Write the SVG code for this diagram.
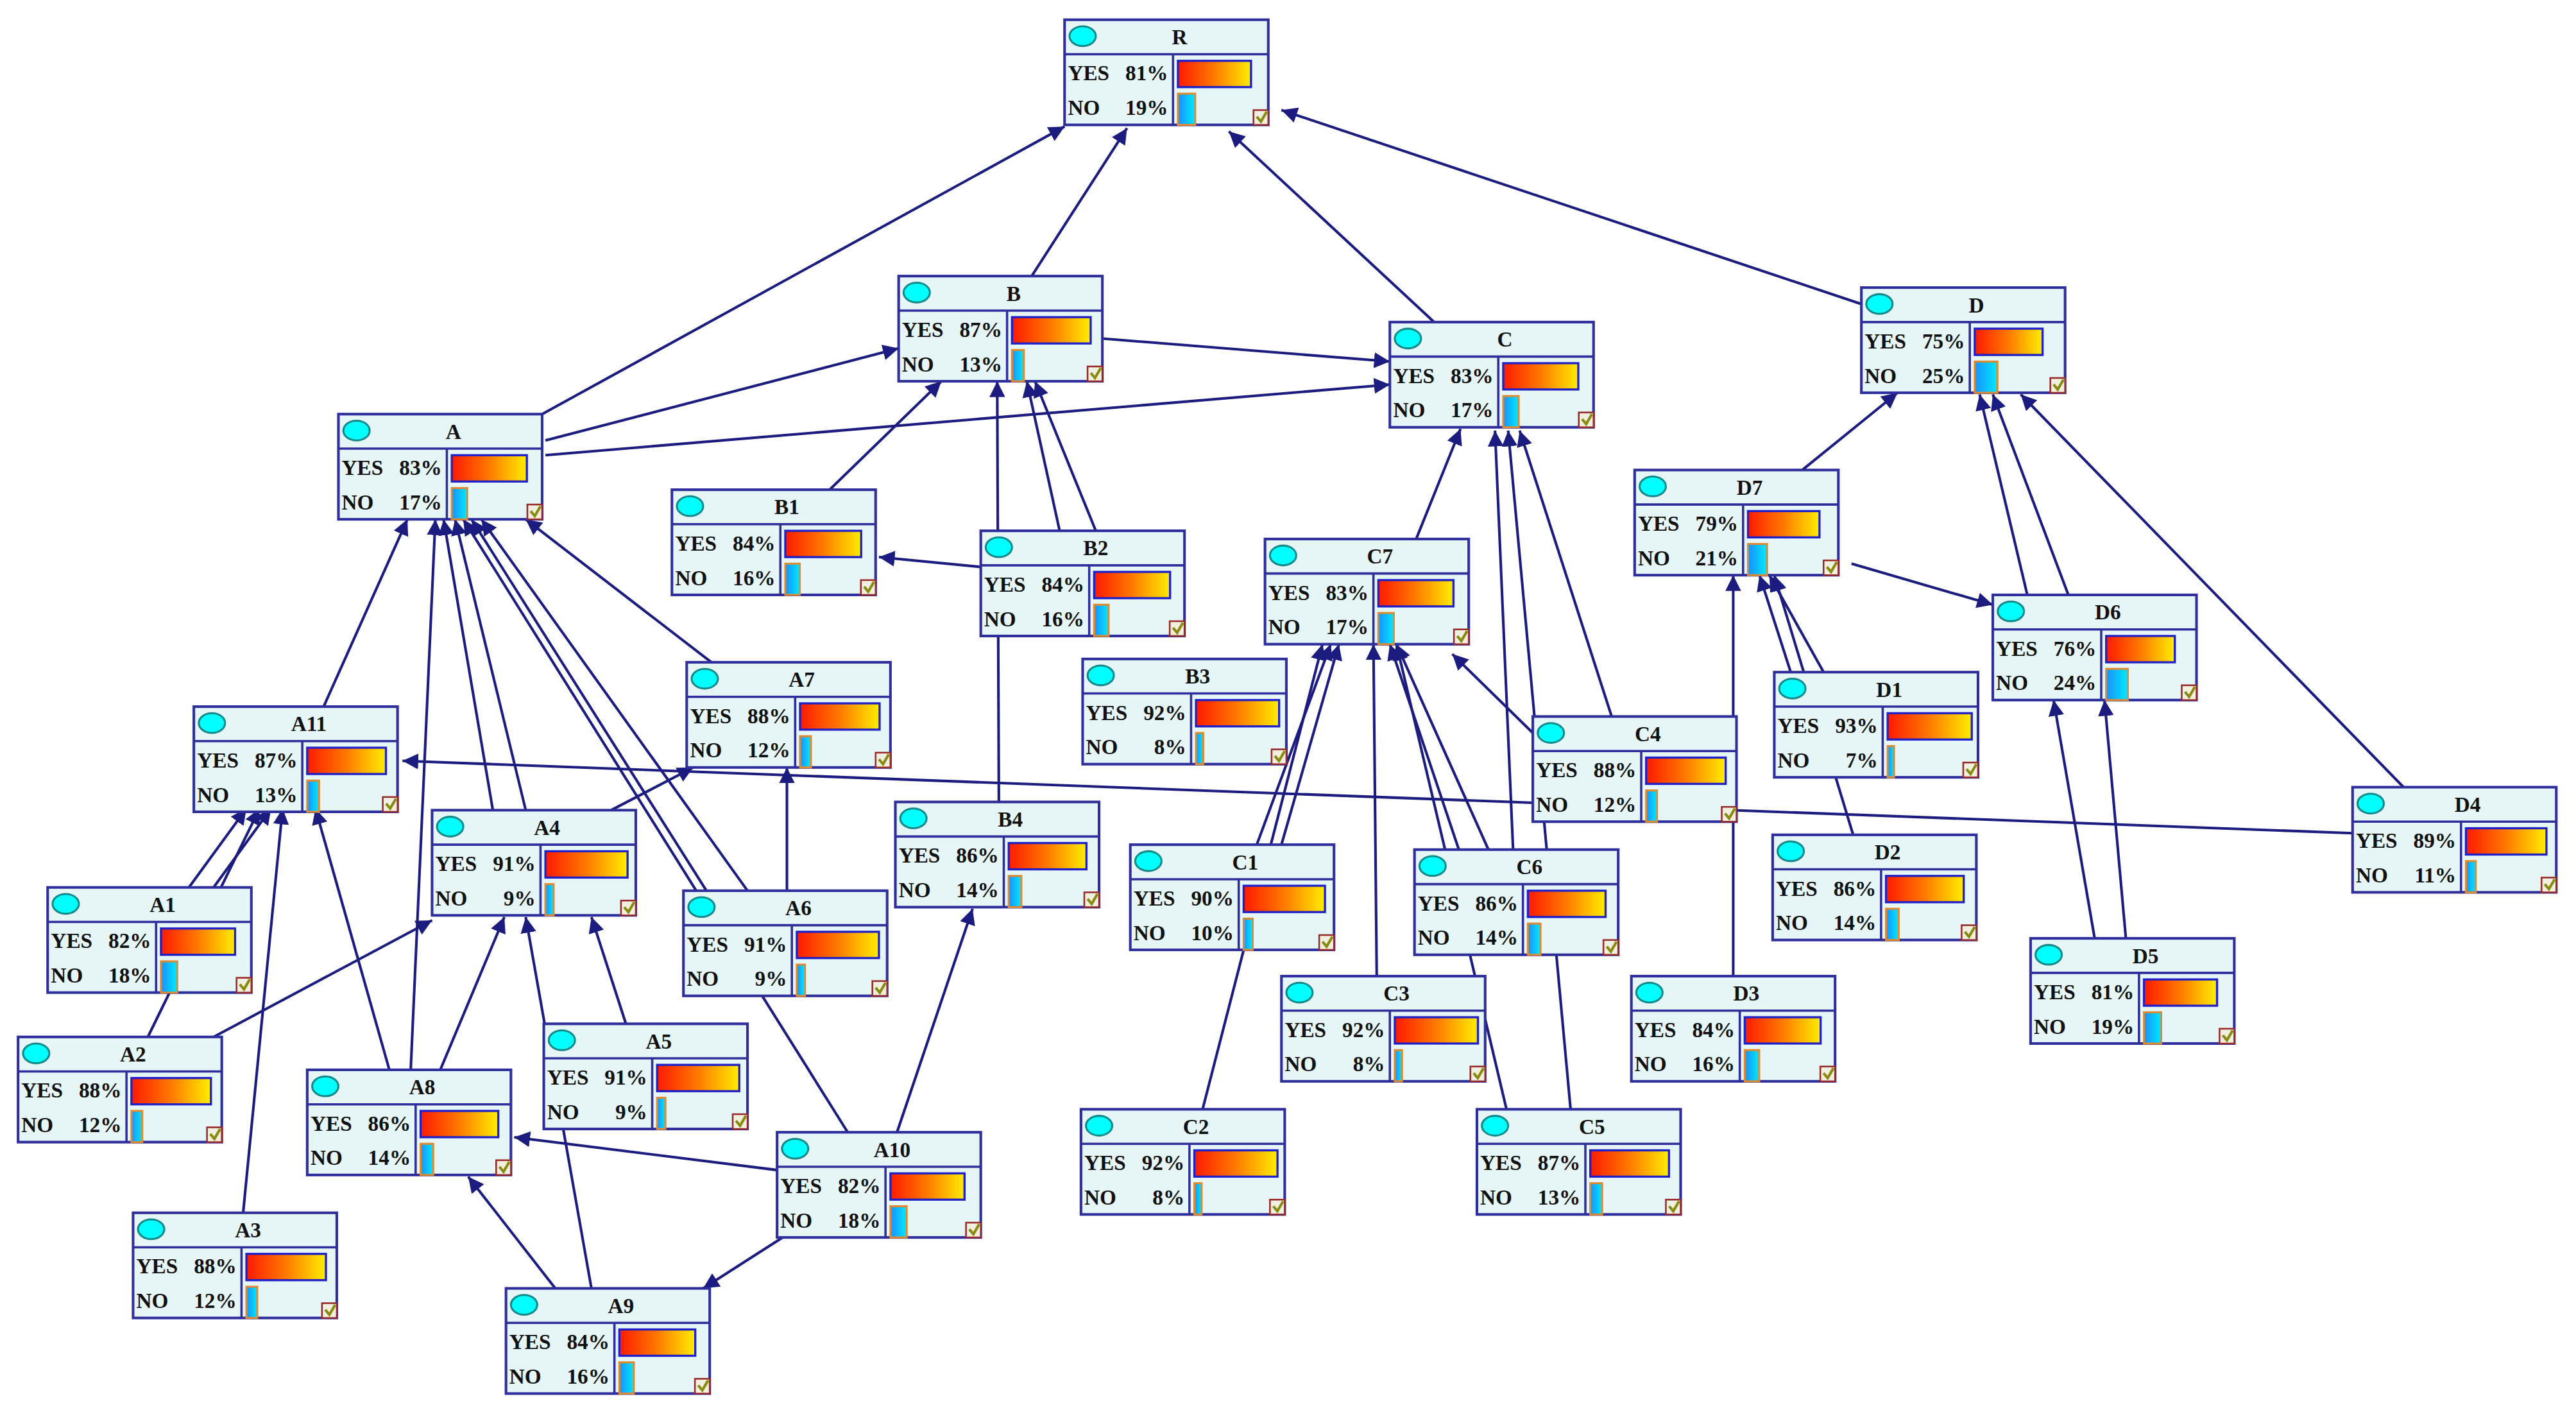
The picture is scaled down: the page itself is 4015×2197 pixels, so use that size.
<svg xmlns="http://www.w3.org/2000/svg" width="4015" height="2197" viewBox="0 0 4015 2197">
<style>
.bx{fill:#e6f5f5;stroke:#2e2e9c;stroke-width:1.6}
.ln{stroke:#2e2e9c;stroke-width:1.4}
.ic{fill:#00ffff;stroke:#138a8a;stroke-width:1.2}
.t{font-family:"Liberation Serif",serif;font-weight:bold;font-size:13px;fill:#111}
.yb{fill:url(#gy);stroke:#2020c8;stroke-width:1.3}
.nb{fill:url(#gn);stroke:#e08a30;stroke-width:1.2}
.ck{fill:#f0f0e0;stroke:#9a2a2a;stroke-width:1}
.cm{fill:none;stroke:#8a8a10;stroke-width:1.6}
.e{stroke:#1c1c80;stroke-width:1.6;fill:none;marker-end:url(#ah)}
</style>
<defs>
<linearGradient id="gy"><stop offset="0" stop-color="#ff1a00"/><stop offset="0.5" stop-color="#ff7a00"/><stop offset="1" stop-color="#ffee00"/></linearGradient>
<linearGradient id="gn"><stop offset="0" stop-color="#1a90ff"/><stop offset="1" stop-color="#00eaff"/></linearGradient>
<marker id="ah" viewBox="0 0 10 10" refX="10" refY="5" markerWidth="6" markerHeight="6" orient="auto" markerUnits="strokeWidth"><path d="M0,0L10,5L0,10z" fill="#1c1c80"/></marker>
</defs>
<rect width="4015" height="2197" fill="#fff"/>
<g transform="scale(2.5606)">
<g id="connectors">
<line class="e" x1="330" y1="252" x2="648" y2="77"/>
<line class="e" x1="628" y1="168" x2="686" y2="78"/>
<line class="e" x1="873" y1="196" x2="748" y2="80"/>
<line class="e" x1="1133" y1="185" x2="780" y2="67"/>
<line class="e" x1="671" y1="206" x2="846" y2="220"/>
<line class="e" x1="332" y1="268" x2="547" y2="212"/>
<line class="e" x1="332" y1="277" x2="846" y2="234"/>
<line class="e" x1="505" y1="298" x2="573" y2="232"/>
<line class="e" x1="645" y1="323" x2="625" y2="232"/>
<line class="e" x1="667" y1="323" x2="630" y2="232"/>
<line class="e" x1="608" y1="488" x2="607" y2="232"/>
<line class="e" x1="597" y1="345" x2="535" y2="339"/>
<line class="e" x1="862" y1="328" x2="889" y2="261"/>
<line class="e" x1="921" y1="517" x2="910" y2="262"/>
<line class="e" x1="956" y1="675" x2="918" y2="262"/>
<line class="e" x1="917" y1="675" x2="850" y2="392"/>
<line class="e" x1="981" y1="436" x2="925" y2="262"/>
<line class="e" x1="933" y1="446" x2="884" y2="398"/>
<line class="e" x1="780" y1="514" x2="815" y2="392"/>
<line class="e" x1="765" y1="514" x2="810" y2="392"/>
<line class="e" x1="732" y1="675" x2="805" y2="392"/>
<line class="e" x1="838" y1="594" x2="836" y2="392"/>
<line class="e" x1="906" y1="517" x2="850" y2="392"/>
<line class="e" x1="888" y1="517" x2="846" y2="392"/>
<line class="e" x1="1097" y1="286" x2="1155" y2="239"/>
<line class="e" x1="1234" y1="362" x2="1205" y2="240"/>
<line class="e" x1="1259" y1="362" x2="1213" y2="240"/>
<line class="e" x1="1463" y1="479" x2="1230" y2="240"/>
<line class="e" x1="1127" y1="343" x2="1213" y2="368"/>
<line class="e" x1="1110" y1="409" x2="1077" y2="350"/>
<line class="e" x1="1090" y1="409" x2="1071" y2="350"/>
<line class="e" x1="1055" y1="594" x2="1055" y2="350"/>
<line class="e" x1="1128" y1="508" x2="1080" y2="350"/>
<line class="e" x1="1294" y1="571" x2="1281" y2="426"/>
<line class="e" x1="1275" y1="571" x2="1250" y2="426"/>
<line class="e" x1="1432" y1="507" x2="245" y2="463"/>
<line class="e" x1="197" y1="430" x2="248" y2="316"/>
<line class="e" x1="433" y1="403" x2="320" y2="316"/>
<line class="e" x1="300" y1="493" x2="270" y2="316"/>
<line class="e" x1="320" y1="493" x2="277" y2="316"/>
<line class="e" x1="430" y1="542" x2="287" y2="316"/>
<line class="e" x1="455" y1="542" x2="293" y2="316"/>
<line class="e" x1="250" y1="651" x2="265" y2="316"/>
<line class="e" x1="516" y1="689" x2="282" y2="316"/>
<line class="e" x1="115" y1="540" x2="150" y2="492"/>
<line class="e" x1="130" y1="540" x2="165" y2="492"/>
<line class="e" x1="90" y1="631" x2="158" y2="492"/>
<line class="e" x1="148" y1="738" x2="172" y2="492"/>
<line class="e" x1="237" y1="651" x2="192" y2="492"/>
<line class="e" x1="372" y1="493" x2="422" y2="467"/>
<line class="e" x1="479" y1="542" x2="479" y2="467"/>
<line class="e" x1="130" y1="631" x2="263" y2="560"/>
<line class="e" x1="381" y1="623" x2="360" y2="558"/>
<line class="e" x1="268" y1="651" x2="307" y2="558"/>
<line class="e" x1="360" y1="784" x2="320" y2="558"/>
<line class="e" x1="338" y1="784" x2="285" y2="716"/>
<line class="e" x1="478" y1="752" x2="428" y2="784"/>
<line class="e" x1="473" y1="712" x2="313" y2="692"/>
<line class="e" x1="546" y1="689" x2="592" y2="553"/>
</g>
<defs>
<g id="nb">
<rect class="bx" x="0" y="0" width="124" height="64"/>
<line class="ln" x1="0" y1="21" x2="124" y2="21"/>
<line class="ln" x1="66" y1="21" x2="66" y2="64"/>
<ellipse class="ic" cx="11" cy="10" rx="8" ry="6"/>
<rect class="ck" x="115" y="55" width="9" height="9"/>
<polyline class="cm" points="117,59 119.5,62 123,56"/>
</g>
</defs>
<g id="R" transform="translate(648,12)"><use href="#nb"/><text class="t" x="70" y="15" text-anchor="middle">R</text><text class="t" x="2" y="37">YES</text><text class="t" x="63" y="37" text-anchor="end">81%</text><text class="t" x="2" y="58">NO</text><text class="t" x="63" y="58" text-anchor="end">19%</text><rect class="yb" x="69" y="25" width="44.5" height="16"/><rect class="nb" x="69" y="45" width="10.5" height="19"/></g>
<g id="B" transform="translate(547,168)"><use href="#nb"/><text class="t" x="70" y="15" text-anchor="middle">B</text><text class="t" x="2" y="37">YES</text><text class="t" x="63" y="37" text-anchor="end">87%</text><text class="t" x="2" y="58">NO</text><text class="t" x="63" y="58" text-anchor="end">13%</text><rect class="yb" x="69" y="25" width="47.9" height="16"/><rect class="nb" x="69" y="45" width="7.2" height="19"/></g>
<g id="C" transform="translate(846,196)"><use href="#nb"/><text class="t" x="70" y="15" text-anchor="middle">C</text><text class="t" x="2" y="37">YES</text><text class="t" x="63" y="37" text-anchor="end">83%</text><text class="t" x="2" y="58">NO</text><text class="t" x="63" y="58" text-anchor="end">17%</text><rect class="yb" x="69" y="25" width="45.7" height="16"/><rect class="nb" x="69" y="45" width="9.4" height="19"/></g>
<g id="D" transform="translate(1133,175)"><use href="#nb"/><text class="t" x="70" y="15" text-anchor="middle">D</text><text class="t" x="2" y="37">YES</text><text class="t" x="63" y="37" text-anchor="end">75%</text><text class="t" x="2" y="58">NO</text><text class="t" x="63" y="58" text-anchor="end">25%</text><rect class="yb" x="69" y="25" width="41.3" height="16"/><rect class="nb" x="69" y="45" width="13.8" height="19"/></g>
<g id="A" transform="translate(206,252)"><use href="#nb"/><text class="t" x="70" y="15" text-anchor="middle">A</text><text class="t" x="2" y="37">YES</text><text class="t" x="63" y="37" text-anchor="end">83%</text><text class="t" x="2" y="58">NO</text><text class="t" x="63" y="58" text-anchor="end">17%</text><rect class="yb" x="69" y="25" width="45.7" height="16"/><rect class="nb" x="69" y="45" width="9.4" height="19"/></g>
<g id="B1" transform="translate(409,298)"><use href="#nb"/><text class="t" x="70" y="15" text-anchor="middle">B1</text><text class="t" x="2" y="37">YES</text><text class="t" x="63" y="37" text-anchor="end">84%</text><text class="t" x="2" y="58">NO</text><text class="t" x="63" y="58" text-anchor="end">16%</text><rect class="yb" x="69" y="25" width="46.2" height="16"/><rect class="nb" x="69" y="45" width="8.8" height="19"/></g>
<g id="B2" transform="translate(597,323)"><use href="#nb"/><text class="t" x="70" y="15" text-anchor="middle">B2</text><text class="t" x="2" y="37">YES</text><text class="t" x="63" y="37" text-anchor="end">84%</text><text class="t" x="2" y="58">NO</text><text class="t" x="63" y="58" text-anchor="end">16%</text><rect class="yb" x="69" y="25" width="46.2" height="16"/><rect class="nb" x="69" y="45" width="8.8" height="19"/></g>
<g id="C7" transform="translate(770,328)"><use href="#nb"/><text class="t" x="70" y="15" text-anchor="middle">C7</text><text class="t" x="2" y="37">YES</text><text class="t" x="63" y="37" text-anchor="end">83%</text><text class="t" x="2" y="58">NO</text><text class="t" x="63" y="58" text-anchor="end">17%</text><rect class="yb" x="69" y="25" width="45.7" height="16"/><rect class="nb" x="69" y="45" width="9.4" height="19"/></g>
<g id="D7" transform="translate(995,286)"><use href="#nb"/><text class="t" x="70" y="15" text-anchor="middle">D7</text><text class="t" x="2" y="37">YES</text><text class="t" x="63" y="37" text-anchor="end">79%</text><text class="t" x="2" y="58">NO</text><text class="t" x="63" y="58" text-anchor="end">21%</text><rect class="yb" x="69" y="25" width="43.5" height="16"/><rect class="nb" x="69" y="45" width="11.6" height="19"/></g>
<g id="D6" transform="translate(1213,362)"><use href="#nb"/><text class="t" x="70" y="15" text-anchor="middle">D6</text><text class="t" x="2" y="37">YES</text><text class="t" x="63" y="37" text-anchor="end">76%</text><text class="t" x="2" y="58">NO</text><text class="t" x="63" y="58" text-anchor="end">24%</text><rect class="yb" x="69" y="25" width="41.8" height="16"/><rect class="nb" x="69" y="45" width="13.2" height="19"/></g>
<g id="A7" transform="translate(418,403)"><use href="#nb"/><text class="t" x="70" y="15" text-anchor="middle">A7</text><text class="t" x="2" y="37">YES</text><text class="t" x="63" y="37" text-anchor="end">88%</text><text class="t" x="2" y="58">NO</text><text class="t" x="63" y="58" text-anchor="end">12%</text><rect class="yb" x="69" y="25" width="48.4" height="16"/><rect class="nb" x="69" y="45" width="6.6" height="19"/></g>
<g id="B3" transform="translate(659,401)"><use href="#nb"/><text class="t" x="70" y="15" text-anchor="middle">B3</text><text class="t" x="2" y="37">YES</text><text class="t" x="63" y="37" text-anchor="end">92%</text><text class="t" x="2" y="58">NO</text><text class="t" x="63" y="58" text-anchor="end">8%</text><rect class="yb" x="69" y="25" width="50.6" height="16"/><rect class="nb" x="69" y="45" width="4.4" height="19"/></g>
<g id="A11" transform="translate(118,430)"><use href="#nb"/><text class="t" x="70" y="15" text-anchor="middle">A11</text><text class="t" x="2" y="37">YES</text><text class="t" x="63" y="37" text-anchor="end">87%</text><text class="t" x="2" y="58">NO</text><text class="t" x="63" y="58" text-anchor="end">13%</text><rect class="yb" x="69" y="25" width="47.9" height="16"/><rect class="nb" x="69" y="45" width="7.2" height="19"/></g>
<g id="C4" transform="translate(933,436)"><use href="#nb"/><text class="t" x="70" y="15" text-anchor="middle">C4</text><text class="t" x="2" y="37">YES</text><text class="t" x="63" y="37" text-anchor="end">88%</text><text class="t" x="2" y="58">NO</text><text class="t" x="63" y="58" text-anchor="end">12%</text><rect class="yb" x="69" y="25" width="48.4" height="16"/><rect class="nb" x="69" y="45" width="6.6" height="19"/></g>
<g id="D1" transform="translate(1080,409)"><use href="#nb"/><text class="t" x="70" y="15" text-anchor="middle">D1</text><text class="t" x="2" y="37">YES</text><text class="t" x="63" y="37" text-anchor="end">93%</text><text class="t" x="2" y="58">NO</text><text class="t" x="63" y="58" text-anchor="end">7%</text><rect class="yb" x="69" y="25" width="51.2" height="16"/><rect class="nb" x="69" y="45" width="3.9" height="19"/></g>
<g id="D4" transform="translate(1432,479)"><use href="#nb"/><text class="t" x="70" y="15" text-anchor="middle">D4</text><text class="t" x="2" y="37">YES</text><text class="t" x="63" y="37" text-anchor="end">89%</text><text class="t" x="2" y="58">NO</text><text class="t" x="63" y="58" text-anchor="end">11%</text><rect class="yb" x="69" y="25" width="49" height="16"/><rect class="nb" x="69" y="45" width="6" height="19"/></g>
<g id="A4" transform="translate(263,493)"><use href="#nb"/><text class="t" x="70" y="15" text-anchor="middle">A4</text><text class="t" x="2" y="37">YES</text><text class="t" x="63" y="37" text-anchor="end">91%</text><text class="t" x="2" y="58">NO</text><text class="t" x="63" y="58" text-anchor="end">9%</text><rect class="yb" x="69" y="25" width="50" height="16"/><rect class="nb" x="69" y="45" width="5" height="19"/></g>
<g id="B4" transform="translate(545,488)"><use href="#nb"/><text class="t" x="70" y="15" text-anchor="middle">B4</text><text class="t" x="2" y="37">YES</text><text class="t" x="63" y="37" text-anchor="end">86%</text><text class="t" x="2" y="58">NO</text><text class="t" x="63" y="58" text-anchor="end">14%</text><rect class="yb" x="69" y="25" width="47.3" height="16"/><rect class="nb" x="69" y="45" width="7.7" height="19"/></g>
<g id="A6" transform="translate(416,542)"><use href="#nb"/><text class="t" x="70" y="15" text-anchor="middle">A6</text><text class="t" x="2" y="37">YES</text><text class="t" x="63" y="37" text-anchor="end">91%</text><text class="t" x="2" y="58">NO</text><text class="t" x="63" y="58" text-anchor="end">9%</text><rect class="yb" x="69" y="25" width="50" height="16"/><rect class="nb" x="69" y="45" width="5" height="19"/></g>
<g id="C1" transform="translate(688,514)"><use href="#nb"/><text class="t" x="70" y="15" text-anchor="middle">C1</text><text class="t" x="2" y="37">YES</text><text class="t" x="63" y="37" text-anchor="end">90%</text><text class="t" x="2" y="58">NO</text><text class="t" x="63" y="58" text-anchor="end">10%</text><rect class="yb" x="69" y="25" width="49.5" height="16"/><rect class="nb" x="69" y="45" width="5.5" height="19"/></g>
<g id="C6" transform="translate(861,517)"><use href="#nb"/><text class="t" x="70" y="15" text-anchor="middle">C6</text><text class="t" x="2" y="37">YES</text><text class="t" x="63" y="37" text-anchor="end">86%</text><text class="t" x="2" y="58">NO</text><text class="t" x="63" y="58" text-anchor="end">14%</text><rect class="yb" x="69" y="25" width="47.3" height="16"/><rect class="nb" x="69" y="45" width="7.7" height="19"/></g>
<g id="D2" transform="translate(1079,508)"><use href="#nb"/><text class="t" x="70" y="15" text-anchor="middle">D2</text><text class="t" x="2" y="37">YES</text><text class="t" x="63" y="37" text-anchor="end">86%</text><text class="t" x="2" y="58">NO</text><text class="t" x="63" y="58" text-anchor="end">14%</text><rect class="yb" x="69" y="25" width="47.3" height="16"/><rect class="nb" x="69" y="45" width="7.7" height="19"/></g>
<g id="A1" transform="translate(29,540)"><use href="#nb"/><text class="t" x="70" y="15" text-anchor="middle">A1</text><text class="t" x="2" y="37">YES</text><text class="t" x="63" y="37" text-anchor="end">82%</text><text class="t" x="2" y="58">NO</text><text class="t" x="63" y="58" text-anchor="end">18%</text><rect class="yb" x="69" y="25" width="45.1" height="16"/><rect class="nb" x="69" y="45" width="9.9" height="19"/></g>
<g id="D5" transform="translate(1236,571)"><use href="#nb"/><text class="t" x="70" y="15" text-anchor="middle">D5</text><text class="t" x="2" y="37">YES</text><text class="t" x="63" y="37" text-anchor="end">81%</text><text class="t" x="2" y="58">NO</text><text class="t" x="63" y="58" text-anchor="end">19%</text><rect class="yb" x="69" y="25" width="44.5" height="16"/><rect class="nb" x="69" y="45" width="10.5" height="19"/></g>
<g id="A2" transform="translate(11,631)"><use href="#nb"/><text class="t" x="70" y="15" text-anchor="middle">A2</text><text class="t" x="2" y="37">YES</text><text class="t" x="63" y="37" text-anchor="end">88%</text><text class="t" x="2" y="58">NO</text><text class="t" x="63" y="58" text-anchor="end">12%</text><rect class="yb" x="69" y="25" width="48.4" height="16"/><rect class="nb" x="69" y="45" width="6.6" height="19"/></g>
<g id="A5" transform="translate(331,623)"><use href="#nb"/><text class="t" x="70" y="15" text-anchor="middle">A5</text><text class="t" x="2" y="37">YES</text><text class="t" x="63" y="37" text-anchor="end">91%</text><text class="t" x="2" y="58">NO</text><text class="t" x="63" y="58" text-anchor="end">9%</text><rect class="yb" x="69" y="25" width="50" height="16"/><rect class="nb" x="69" y="45" width="5" height="19"/></g>
<g id="C3" transform="translate(780,594)"><use href="#nb"/><text class="t" x="70" y="15" text-anchor="middle">C3</text><text class="t" x="2" y="37">YES</text><text class="t" x="63" y="37" text-anchor="end">92%</text><text class="t" x="2" y="58">NO</text><text class="t" x="63" y="58" text-anchor="end">8%</text><rect class="yb" x="69" y="25" width="50.6" height="16"/><rect class="nb" x="69" y="45" width="4.4" height="19"/></g>
<g id="D3" transform="translate(993,594)"><use href="#nb"/><text class="t" x="70" y="15" text-anchor="middle">D3</text><text class="t" x="2" y="37">YES</text><text class="t" x="63" y="37" text-anchor="end">84%</text><text class="t" x="2" y="58">NO</text><text class="t" x="63" y="58" text-anchor="end">16%</text><rect class="yb" x="69" y="25" width="46.2" height="16"/><rect class="nb" x="69" y="45" width="8.8" height="19"/></g>
<g id="A8" transform="translate(187,651)"><use href="#nb"/><text class="t" x="70" y="15" text-anchor="middle">A8</text><text class="t" x="2" y="37">YES</text><text class="t" x="63" y="37" text-anchor="end">86%</text><text class="t" x="2" y="58">NO</text><text class="t" x="63" y="58" text-anchor="end">14%</text><rect class="yb" x="69" y="25" width="47.3" height="16"/><rect class="nb" x="69" y="45" width="7.7" height="19"/></g>
<g id="A10" transform="translate(473,689)"><use href="#nb"/><text class="t" x="70" y="15" text-anchor="middle">A10</text><text class="t" x="2" y="37">YES</text><text class="t" x="63" y="37" text-anchor="end">82%</text><text class="t" x="2" y="58">NO</text><text class="t" x="63" y="58" text-anchor="end">18%</text><rect class="yb" x="69" y="25" width="45.1" height="16"/><rect class="nb" x="69" y="45" width="9.9" height="19"/></g>
<g id="C2" transform="translate(658,675)"><use href="#nb"/><text class="t" x="70" y="15" text-anchor="middle">C2</text><text class="t" x="2" y="37">YES</text><text class="t" x="63" y="37" text-anchor="end">92%</text><text class="t" x="2" y="58">NO</text><text class="t" x="63" y="58" text-anchor="end">8%</text><rect class="yb" x="69" y="25" width="50.6" height="16"/><rect class="nb" x="69" y="45" width="4.4" height="19"/></g>
<g id="C5" transform="translate(899,675)"><use href="#nb"/><text class="t" x="70" y="15" text-anchor="middle">C5</text><text class="t" x="2" y="37">YES</text><text class="t" x="63" y="37" text-anchor="end">87%</text><text class="t" x="2" y="58">NO</text><text class="t" x="63" y="58" text-anchor="end">13%</text><rect class="yb" x="69" y="25" width="47.9" height="16"/><rect class="nb" x="69" y="45" width="7.2" height="19"/></g>
<g id="A3" transform="translate(81,738)"><use href="#nb"/><text class="t" x="70" y="15" text-anchor="middle">A3</text><text class="t" x="2" y="37">YES</text><text class="t" x="63" y="37" text-anchor="end">88%</text><text class="t" x="2" y="58">NO</text><text class="t" x="63" y="58" text-anchor="end">12%</text><rect class="yb" x="69" y="25" width="48.4" height="16"/><rect class="nb" x="69" y="45" width="6.6" height="19"/></g>
<g id="A9" transform="translate(308,784)"><use href="#nb"/><text class="t" x="70" y="15" text-anchor="middle">A9</text><text class="t" x="2" y="37">YES</text><text class="t" x="63" y="37" text-anchor="end">84%</text><text class="t" x="2" y="58">NO</text><text class="t" x="63" y="58" text-anchor="end">16%</text><rect class="yb" x="69" y="25" width="46.2" height="16"/><rect class="nb" x="69" y="45" width="8.8" height="19"/></g>
</g>
</svg>
